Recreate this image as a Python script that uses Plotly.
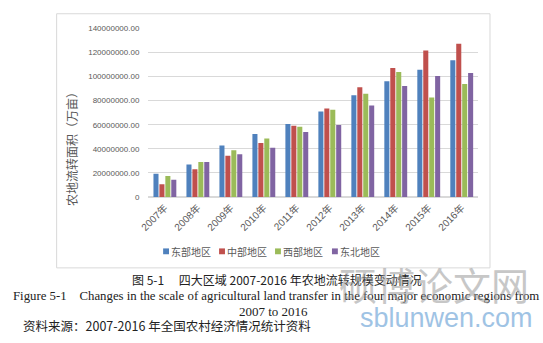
import plotly.graph_objects as go

# Area of agricultural land transfer by region, 2007-2016
years = ["2007年", "2008年", "2009年", "2010年", "2011年",
         "2012年", "2013年", "2014年", "2015年", "2016年"]
east = [19.4e6, 27.0e6, 42.7e6, 52.4e6, 60.7e6, 71.0e6, 84.5e6, 96.2e6, 105.6e6, 113.6e6]
central = [10.6e6, 23.2e6, 34.3e6, 44.8e6, 59.1e6, 73.5e6, 91.2e6, 107.2e6, 121.6e6, 127.2e6]
west = [17.6e6, 29.1e6, 38.9e6, 48.6e6, 58.3e6, 72.4e6, 85.8e6, 103.7e6, 82.6e6, 93.8e6]
northeast = [14.4e6, 29.1e6, 35.6e6, 41.0e6, 54.0e6, 59.9e6, 76.0e6, 92.2e6, 100.5e6, 102.9e6]

series_names = ["东部地区", "中部地区", "西部地区", "东北地区"]
series_values = [east, central, west, northeast]
colors = ["#4F81BD", "#C0504D", "#9BBB59", "#8064A2"]

ytick_vals = [0, 20e6, 40e6, 60e6, 80e6, 100e6, 120e6, 140e6]
ytick_text = ["0", "20000000.00", "40000000.00", "60000000.00", "80000000.00",
              "100000000.00", "120000000.00", "140000000.00"]

W, H = 543, 343

def px(x):
    return x / W

def py(y):
    return 1 - y / H

fig = go.Figure()
for name, vals, col in zip(series_names, series_values, colors):
    fig.add_trace(go.Bar(x=years, y=vals, name=name, marker=dict(color=col, line=dict(width=0))))

fig.update_layout(
    width=W, height=H,
    margin=dict(l=0, r=0, t=0, b=0),
    paper_bgcolor="white", plot_bgcolor="white",
    barmode="group", bargap=0.28, bargroupgap=0.15,
    showlegend=False,
    font=dict(family="Liberation Sans, Noto Sans CJK SC", color="#595959"),
)
fig.update_xaxes(
    domain=[px(141), px(477)], tickangle=-45,
    tickfont=dict(size=10, family="Liberation Sans, Noto Sans CJK SC", color="#595959"),
    showgrid=False, showline=True, linecolor="#D9D9D9", linewidth=1, ticks="",
)
fig.update_yaxes(
    domain=[py(198.3), py(25)], range=[0, 140e6],
    tickvals=ytick_vals, ticktext=ytick_text,
    tickfont=dict(size=8, color="#595959"),
    showgrid=True, gridcolor="#D9D9D9", gridwidth=1,
    zeroline=True, zerolinecolor="#D9D9D9", showline=False, ticks="",
    ticklabelstandoff=8,
)

# chart area border
fig.add_shape(type="rect", xref="paper", yref="paper",
              x0=px(47.5), x1=px(489), y0=py(271), y1=py(10),
              line=dict(color="#D9D9D9", width=1), fillcolor="rgba(0,0,0,0)", layer="below")

# y axis title
fig.add_annotation(text="农地流转面积（万亩）", xref="paper", yref="paper",
                   x=px(62), y=py(146), xanchor="center", yanchor="middle",
                   textangle=-90, showarrow=False,
                   font=dict(size=12, family="Noto Sans CJK SC", color="#595959"))

# legend
leg_x = [156, 213, 270, 328]
for name, col, lx in zip(series_names, colors, leg_x):
    fig.add_shape(type="rect", xref="paper", yref="paper",
                  x0=px(lx), x1=px(lx + 6), y0=py(257), y1=py(251),
                  fillcolor=col, line=dict(width=0))
    fig.add_annotation(text=name, xref="paper", yref="paper", x=px(lx + 7), y=py(254),
                       xanchor="left", yanchor="middle", showarrow=False, borderpad=0,
                       font=dict(size=10, family="Noto Sans CJK SC", color="#595959"))

# captions
fig.add_annotation(text="图 5-1　 四大区域 2007-2016 年农地流转规模变动情况", xref="paper", yref="paper",
                   x=px(272), y=py(283), xanchor="center", yanchor="middle", showarrow=False,
                   font=dict(size=12, family="Noto Sans CJK SC", color="#222222"))
fig.add_annotation(text="Figure 5-1    Changes in the scale of agricultural land transfer in the four major economic regions from",
                   xref="paper", yref="paper", x=px(271), y=py(300), xanchor="center", yanchor="middle",
                   showarrow=False, font=dict(size=12.8, family="Liberation Serif", color="#222222"))
fig.add_annotation(text="2007 to 2016", xref="paper", yref="paper", x=px(268), y=py(316),
                   xanchor="center", yanchor="middle", showarrow=False,
                   font=dict(size=13, family="Liberation Serif", color="#222222"))
fig.add_annotation(text="资料来源：2007-2016 年全国农村经济情况统计资料", xref="paper", yref="paper",
                   x=px(160), y=py(330), xanchor="center", yanchor="middle", showarrow=False,
                   font=dict(size=12.5, family="Noto Sans CJK SC", color="#222222"))

# site watermark
fig.add_annotation(text="硕博论文网", xref="paper", yref="paper", x=px(432), y=py(287),
                   xanchor="center", yanchor="middle", showarrow=False, opacity=0.55,
                   font=dict(size=38, family="Noto Sans CJK SC", color="#9a9a9a"))
fig.add_annotation(text="sblunwen.com", xref="paper", yref="paper", x=px(445), y=py(322),
                   xanchor="center", yanchor="middle", showarrow=False, opacity=0.75,
                   font=dict(size=27, family="Liberation Sans", color="#7fb0dc"))

fig.write_html("out.html")
